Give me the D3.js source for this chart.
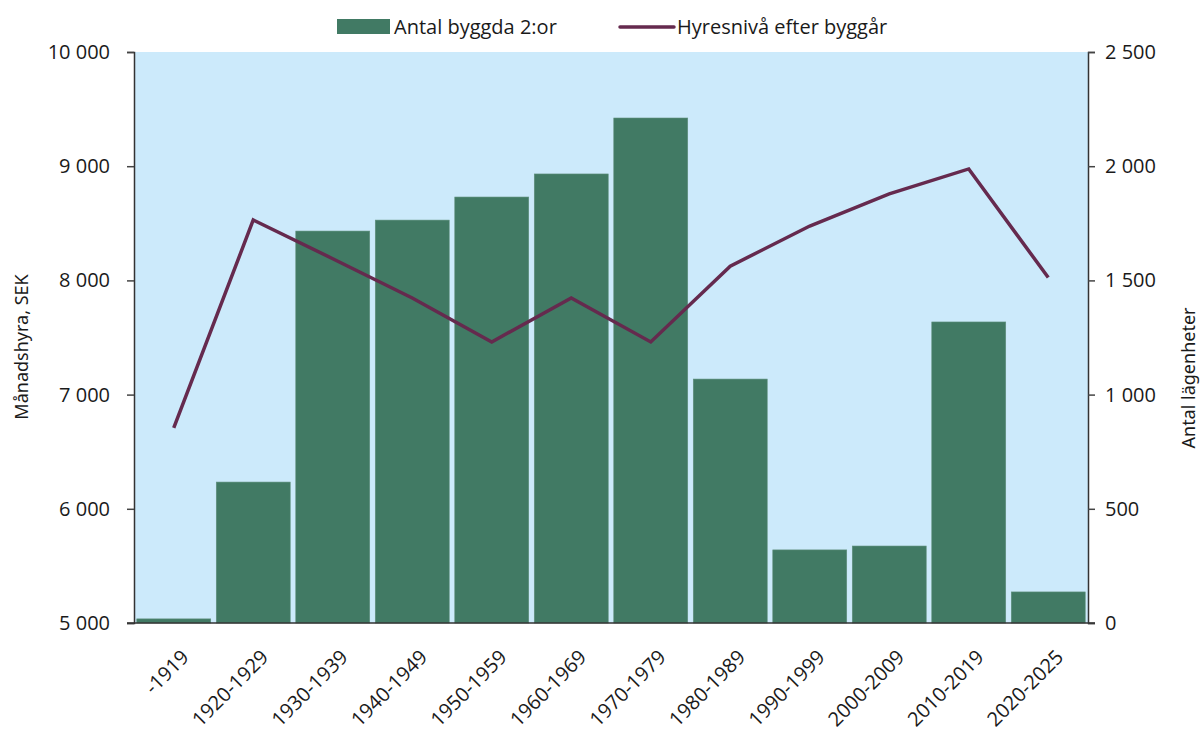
<!DOCTYPE html>
<html lang="sv">
<head>
<meta charset="UTF-8">
<script src="https://cdn.jsdelivr.net/npm/d3@7"></script>
<style>
  body { margin: 0; background: #fff; }
  text { font-family: 'Open Sans', sans-serif; fill: #1a1a1a; }
  .axis-title { font-family: 'Noto Sans', sans-serif; font-size: 18px; }
</style>
</head>
<body>
<svg id="chart" width="1200" height="731"></svg>
<script>
var categories = ["-1919", "1920-1929", "1930-1939", "1940-1949", "1950-1959", "1960-1969",
                  "1970-1979", "1980-1989", "1990-1999", "2000-2009", "2010-2019", "2020-2025"];
// antal byggda 2:or (högeraxel)
var antal = [18, 617, 1716, 1764, 1865, 1966, 2211, 1068, 320, 337, 1318, 136];
// hyresnivå efter byggår, SEK (vänsteraxel)
var hyra = [6708, 8529, 8190, 7846, 7461, 7846, 7461, 8125, 8476, 8757, 8976, 8025];
var leftTicks = [5000, 6000, 7000, 8000, 9000, 10000];
var rightTicks = [0, 500, 1000, 1500, 2000, 2500];

var margin = {top: 52, right: 112, bottom: 108, left: 134};
var width = 1200, height = 731;
var svg = d3.select("#chart");
var fmt = function(d){ return d3.format(",")(d).replace(/,/g, " "); };

var x = d3.scaleBand().domain(categories)
    .range([margin.left, width - margin.right]).paddingInner(0.07).paddingOuter(0.035);
var yL = d3.scaleLinear().domain([5000, 10000]).range([height - margin.bottom, margin.top]);
var yR = d3.scaleLinear().domain([0, 2500]).range([height - margin.bottom, margin.top]);

svg.append("rect")
    .attr("x", margin.left).attr("y", margin.top)
    .attr("width", width - margin.right - margin.left)
    .attr("height", height - margin.bottom - margin.top)
    .attr("fill", "#cceafb");

svg.append("g").selectAll("rect").data(antal).enter().append("rect")
    .attr("x", function(d, i){ return x(categories[i]); })
    .attr("width", x.bandwidth())
    .attr("y", function(d){ return yR(d); })
    .attr("height", function(d){ return yR(0) - yR(d); })
    .attr("fill", "#417a64")
    .attr("stroke", "#5f8f7c").attr("stroke-width", 0.6);

var line = d3.line()
    .x(function(d, i){ return x(categories[i]) + x.bandwidth() / 2; })
    .y(function(d){ return yL(d); });

svg.append("path").datum(hyra)
    .attr("d", line).attr("fill", "none")
    .attr("stroke", "#652a4e").attr("stroke-width", 3.5)
    .attr("stroke-linejoin", "miter");

// axes
var gL = svg.append("g").attr("transform", "translate(" + margin.left + ",0)")
    .call(d3.axisLeft(yL).tickValues(leftTicks).tickFormat(fmt).tickSize(7).tickPadding(17));
var gR = svg.append("g").attr("transform", "translate(" + (width - margin.right) + ",0)")
    .call(d3.axisRight(yR).tickValues(rightTicks).tickFormat(fmt).tickSize(7).tickPadding(10));
var gX = svg.append("g").attr("transform", "translate(0," + (height - margin.bottom) + ")")
    .call(d3.axisBottom(x).tickSize(0).tickPadding(12));

[gL, gR, gX].forEach(function(g){
  g.selectAll("path.domain").attr("stroke", "#333").attr("stroke-width", 1.5);
  g.selectAll(".tick line").attr("stroke", "#444").attr("stroke-width", 1.5);
  g.selectAll("text").attr("font-size", 20).attr("font-family", "'Open Sans', sans-serif").attr("fill", "#1a1a1a");
});
gX.select("path.domain").attr("d", "M" + (margin.left - 7) + ",0H" + (width - margin.right + 7));
gX.selectAll(".tick text")
    .attr("text-anchor", "end")
    .attr("dy", "0.35em")
    .attr("transform", "translate(3,22) rotate(-45)");

svg.append("text").attr("class", "axis-title")
    .attr("transform", "translate(28,347) rotate(-90)")
    .attr("text-anchor", "middle").text("Månadshyra, SEK");
svg.append("text").attr("class", "axis-title")
    .attr("transform", "translate(1195,378) rotate(-90)")
    .attr("text-anchor", "middle").text("Antal lägenheter");

// legend
var leg = svg.append("g");
leg.append("rect").attr("x", 337).attr("y", 19).attr("width", 53).attr("height", 15).attr("fill", "#417a64");
leg.append("text").attr("x", 394).attr("y", 34).attr("font-size", 20).text("Antal byggda 2:or");
leg.append("line").attr("x1", 620).attr("x2", 674).attr("y1", 27).attr("y2", 27)
    .attr("stroke", "#652a4e").attr("stroke-width", 3.5).attr("stroke-linecap", "round");
leg.append("text").attr("x", 677).attr("y", 34).attr("font-size", 20).text("Hyresnivå efter byggår");
</script>
</body>
</html>
